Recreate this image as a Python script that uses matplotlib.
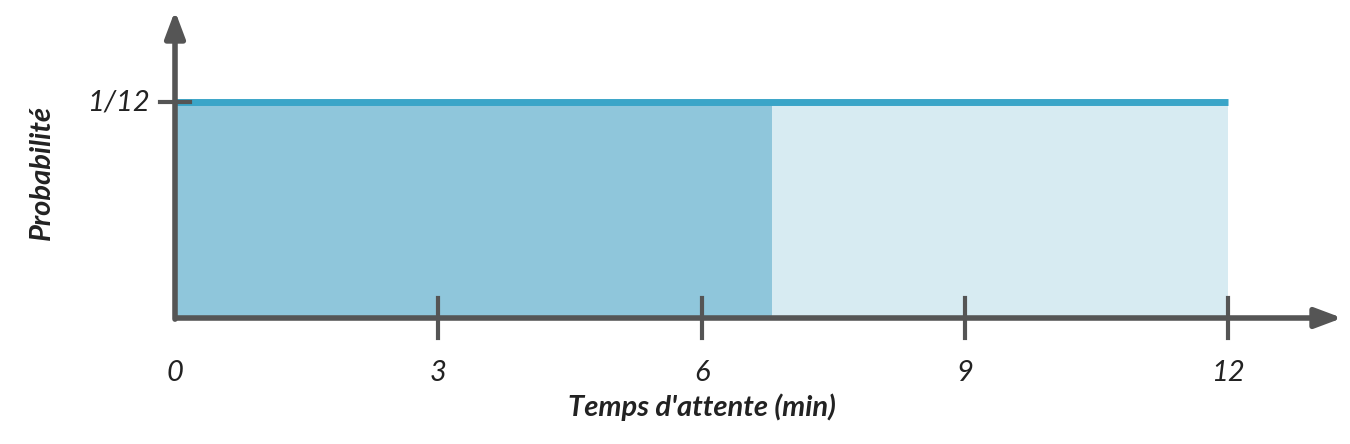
import matplotlib
matplotlib.use("Agg")
import matplotlib.pyplot as plt

x_ticks = [0, 3, 6, 9, 12]
x_tick_labels = ["0", "3", "6", "9", "12"]
x_min, x_max = 0, 12
density = 1/12
shade_to = 6.8
y_label_text = "1/12"

fig = plt.figure(figsize=(13.5, 4.44), dpi=100)
ax = fig.add_axes([0, 0, 1, 1])
ppu_x = 87.75
ppu_y = 2592
ax.set_xlim(-175/ppu_x, (1350-175)/ppu_x)
ax.set_ylim(-(444-318)/ppu_y, 318/ppu_y)
ax.axis("off")

ax.fill_between([x_min, shade_to], 0, density, color="#8fc6db", lw=0)
ax.fill_between([shade_to, x_max], 0, density, color="#d7ebf2", lw=0)
ax.plot([x_min, x_max], [density, density], color="#3aa5c8", lw=5, solid_capstyle="butt")

ac = "#555555"
ax.annotate("", xy=(1345/ppu_x-175/ppu_x, 0), xytext=(-0.02, 0),
            arrowprops=dict(arrowstyle="-|>,head_length=1.6,head_width=0.6", color=ac, lw=4))
ax.annotate("", xy=(0, (318-8)/ppu_y), xytext=(0, -0.0015),
            arrowprops=dict(arrowstyle="-|>,head_length=1.6,head_width=0.6", color=ac, lw=4))
for t in x_ticks[1:]:
    ax.plot([t, t], [-20/ppu_y, 20/ppu_y], color=ac, lw=3)
ax.plot([-15/ppu_x, 15/ppu_x], [density, density], color=ac, lw=3)

for t, lab in zip(x_ticks, x_tick_labels):
    ax.text(t, -(373-318)/ppu_y, lab, ha="center", va="center", fontsize=21,
            family="Lato", style="italic", color="#222222")
ax.text(150/ppu_x-175/ppu_x, density, y_label_text, ha="right", va="center", fontsize=21,
        family="Lato", style="italic", color="#222222")
ax.text(6, -(407-318)/ppu_y, "Temps d'attente (min)", ha="center", va="center", fontsize=21,
        family="Lato", style="italic", weight="bold", color="#222222")
ax.text(42/ppu_x-175/ppu_x, (318-173)/ppu_y, "Probabilité", ha="center", va="center", fontsize=21,
        family="Lato", style="italic", weight="bold", rotation=90, color="#222222")

fig.savefig("out.png", dpi=100)
